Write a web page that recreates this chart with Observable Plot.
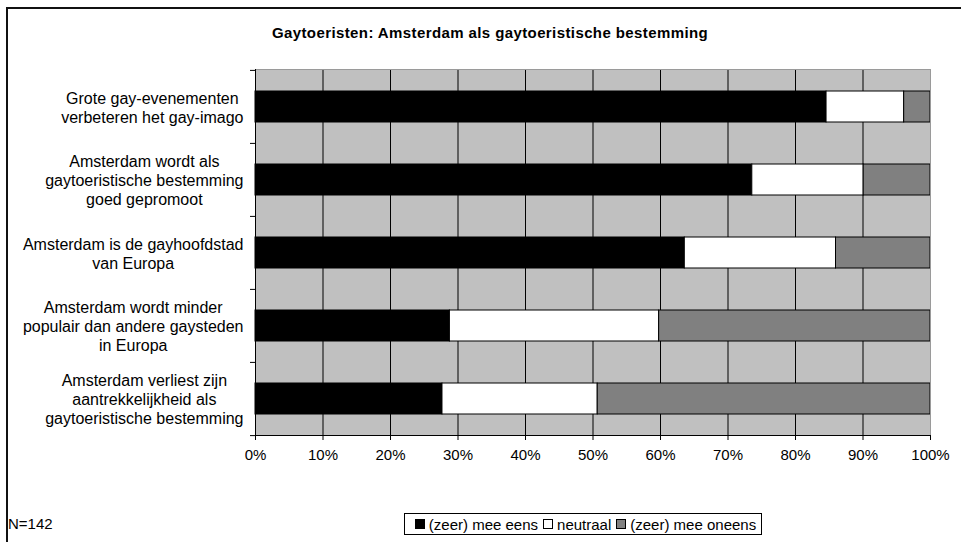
<!DOCTYPE html>
<html>
<head>
<meta charset="utf-8">
<script src="https://cdn.jsdelivr.net/npm/d3@7"></script>
<script src="https://cdn.jsdelivr.net/npm/@observablehq/plot@0.6"></script>
<style>
  body { margin: 0; background: #fff; }
  #wrap { position: relative; width: 961px; height: 542px; overflow: hidden;
          font-family: "Liberation Sans", Arial, sans-serif; color: #000; }
  #border { position: absolute; left: 6px; top: 7px; width: 3000px; height: 3000px;
            border-left: 2px solid #111; border-top: 2px solid #111; }
  #title { position: absolute; left: 0; width: 980px; top: 24px; text-align: center;
           font-weight: bold; font-size: 15px; letter-spacing: 0.4px; line-height: 18px; }
  #chart { position: absolute; left: 0; top: 0; }
  #note { position: absolute; left: 8px; top: 515px; font-size: 15px; line-height: 18px; }
  #legend { position: absolute; left: 404px; top: 513px; width: 356px; height: 20px;
            border: 1px solid #000; background: #fff; display: flex; align-items: center;
            justify-content: center; font-size: 15px; white-space: nowrap; }
  #legend .sw { display: inline-block; width: 8px; height: 8px; border: 1px solid #000;
                margin: 0 4px 0 5px; }
</style>
</head>
<body>
<div id="wrap">
  <div id="border"></div>
  <div id="title">Gaytoeristen: Amsterdam als gaytoeristische bestemming</div>
  <div id="chart"></div>
  <div id="note">N=142</div>
  <div id="legend"></div>
</div>
<script>
// Statements (top to bottom) and answer shares in percent
const statements = [
  "Grote gay-evenementen\nverbeteren het gay-imago",
  "Amsterdam wordt als\ngaytoeristische bestemming\ngoed gepromoot",
  "Amsterdam is de gayhoofdstad\nvan Europa",
  "Amsterdam wordt minder\npopulair dan andere gaysteden\nin Europa",
  "Amsterdam verliest zijn\naantrekkelijkheid als\ngaytoeristische bestemming"
];
const answers = ["(zeer) mee eens", "neutraal", "(zeer) mee oneens"];
const meeEens   = [84.6, 73.6, 63.6, 28.8, 27.7];
const neutraal  = [11.5, 16.5, 22.4, 31.0, 23.0];
const meeOneens = [3.9, 9.9, 14.0, 40.2, 49.3];
const answerColors = ["#000000", "#ffffff", "#808080"];
const xTicks = [0, 10, 20, 30, 40, 50, 60, 70, 80, 90, 100];

const series = [meeEens, neutraal, meeOneens];
const rows = [];
statements.forEach((s, i) => {
  answers.forEach((a, j) => rows.push({statement: s, answer: a, value: series[j][i]}));
});

const W = 961, H = 542;
const mTop = 69, mBottom = H - 435, mLeft = 255, mRight = W - 930;
const step = (H - mTop - mBottom) / statements.length;
const labelFont = "16px 'Liberation Sans', Arial, sans-serif";

// Width of the widest line of a multi-line label, for Excel-style block alignment
const ctx = document.createElement("canvas").getContext("2d");
ctx.font = labelFont;
const blockWidth = s => Math.max(...s.split("\n").map(l => ctx.measureText(l).width));

const labelMarks = statements.map(s => Plot.text([s], {
  y: d => d, text: d => d, frameAnchor: "left", textAnchor: "middle",
  dx: -(12 + blockWidth(s) / 2), lineHeight: 1.2, fontSize: 16, fill: "#000"
}));

const plot = Plot.plot({
  width: W, height: H,
  marginTop: mTop, marginBottom: mBottom, marginLeft: mLeft, marginRight: mRight,
  style: {fontFamily: "'Liberation Sans', Arial, sans-serif", background: "transparent", color: "#000"},
  x: {domain: [0, 100]},
  y: {domain: statements, paddingInner: 0.58, paddingOuter: 0.29, axis: null},
  color: {domain: answers, range: answerColors},
  marks: [
    Plot.frame({fill: "#C0C0C0"}),
    Plot.ruleX(xTicks.filter(t => t > 0 && t < 100), {stroke: "#000", strokeWidth: 1}),
    Plot.barX(rows, {x: "value", y: "statement", fill: "answer", stroke: "#000", strokeWidth: 1}),
    Plot.frame({anchor: "top", stroke: "#9a9a9a"}),
    Plot.frame({anchor: "right", stroke: "#9a9a9a"}),
    Plot.frame({anchor: "left", stroke: "#000"}),
    Plot.frame({anchor: "bottom", stroke: "#000"}),
    Plot.ruleY(statements, {y: d => d, x1: 0, x2: 0, insetLeft: -5, dy: -step / 2, stroke: "#000"}),
    Plot.ruleY(statements.slice(-1), {y: d => d, x1: 0, x2: 0, insetLeft: -5, dy: step / 2, stroke: "#000"}),
    Plot.axisX({ticks: xTicks, tickSize: 5, tickPadding: 9, tickFormat: d => d + "%",
                fontSize: 15, stroke: "#000", fill: "#000", label: null}),
    ...labelMarks
  ]
});
document.getElementById("chart").appendChild(plot);

// Legend: swatch + label for each answer
const legend = document.getElementById("legend");
answers.forEach((a, j) => {
  const sw = document.createElement("span");
  sw.className = "sw";
  sw.style.background = answerColors[j];
  legend.appendChild(sw);
  legend.appendChild(document.createTextNode(a));
});
</script>
</body>
</html>
